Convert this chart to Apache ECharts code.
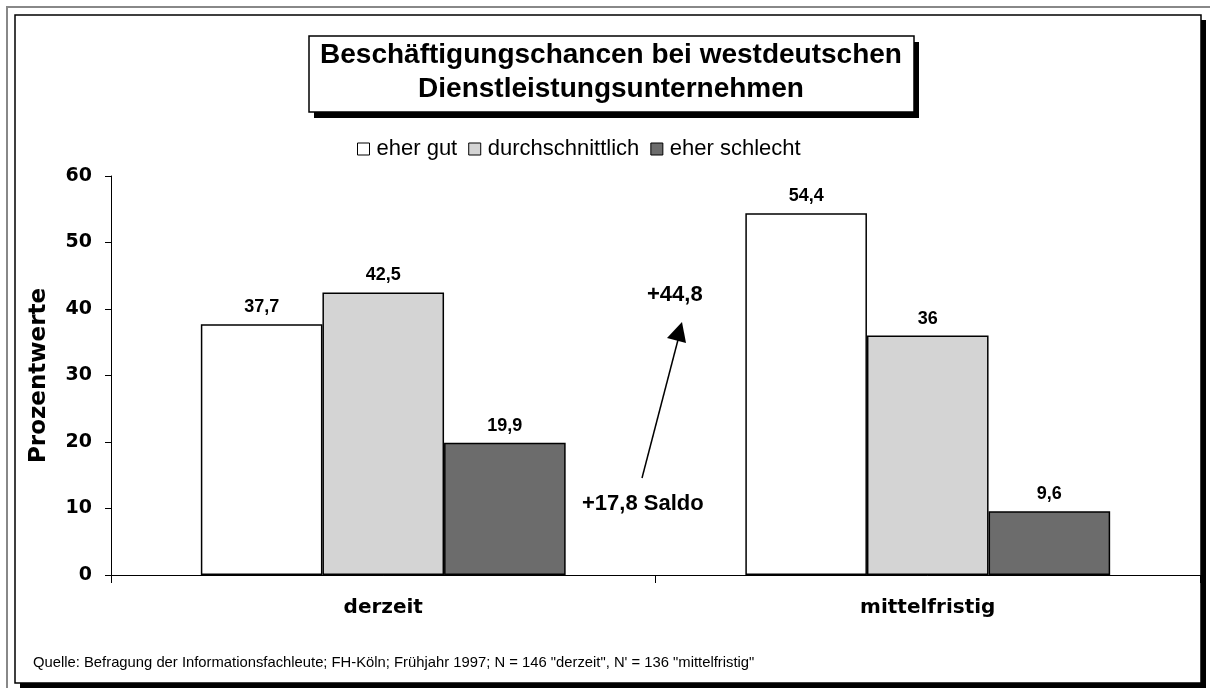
<!DOCTYPE html>
<html>
<head>
<meta charset="utf-8">
<title>Beschäftigungschancen</title>
<script src="https://cdn.jsdelivr.net/npm/echarts@6/dist/echarts.min.js"></script>
<style>
  html, body { margin: 0; padding: 0; background: #fff; }
  #chart { width: 1210px; height: 688px; }
</style>
</head>
<body>
<div id="chart"></div>
<script>
// Zeitpunkte der Befragung
const categories = ['derzeit', 'mittelfristig']
const seriesNames = ['eher gut', 'durchschnittlich', 'eher schlecht']
// Prozentwerte je Antwort
const eherGut = [37.7, 54.4]
const durchschnittlich = [42.5, 36]
const eherSchlecht = [19.9, 9.6]
const yTicks = [0, 10, 20, 30, 40, 50, 60]

const fontFamily = '"Liberation Sans", Arial, sans-serif'
// die Achsenbeschriftung ist im Original breit gezogen
const wideFont = '"DejaVu Sans", Verdana, sans-serif'

const myChart = echarts.init(document.getElementById('chart'))

function barSeries(name, data, color) {
  return {
    name: name,
    type: 'bar',
    data: data,
    barGap: '0%',
    barCategoryGap: '33%',
    itemStyle: {
      color: color,
      borderColor: '#000',
      borderWidth: 1.5
    },
    label: {
      show: true,
      position: 'top',
      distance: 8,
      color: '#000',
      fontFamily: fontFamily,
      fontWeight: 'bold',
      fontSize: 18,
      formatter: function(p) {
        return String(p.value).replace('.', ',')
      }
    }
  }
}

const options = {
  animation: false,
  backgroundColor: '#fff',
  legend: {
    left: 352,
    top: 133,
    icon: 'rect',
    itemWidth: 12,
    itemHeight: 12,
    itemGap: 11,
    itemStyle: {
      borderColor: '#000',
      borderWidth: 1
    },
    textStyle: {
      color: '#000',
      fontFamily: fontFamily,
      fontSize: 22,
      padding: [0, 0, 0, 2]
    },
    data: seriesNames
  },
  grid: {
    left: 111,
    right: 10,
    top: 176,
    bottom: 113
  },
  xAxis: {
    type: 'category',
    data: categories,
    axisLine: {
      lineStyle: { color: '#000', width: 1 }
    },
    axisTick: {
      show: true,
      length: 8,
      lineStyle: { color: '#000' }
    },
    axisLabel: {
      margin: 23,
      color: '#000',
      fontFamily: wideFont,
      fontWeight: 'bold',
      fontSize: 20
    }
  },
  yAxis: {
    type: 'value',
    min: yTicks[0],
    max: yTicks[yTicks.length - 1],
    interval: 10,
    name: 'Prozentwerte',
    nameLocation: 'middle',
    nameRotate: 90,
    nameGap: 60,
    nameTextStyle: {
      color: '#000',
      fontFamily: wideFont,
      fontWeight: 'bold',
      fontSize: 23
    },
    axisLine: {
      show: true,
      lineStyle: { color: '#000', width: 1 }
    },
    axisTick: {
      show: true,
      length: 6,
      lineStyle: { color: '#000' }
    },
    splitLine: { show: false },
    axisLabel: {
      margin: 19,
      color: '#000',
      fontFamily: wideFont,
      fontWeight: 'bold',
      fontSize: 19
    }
  },
  graphic: [
    // Rahmen
    {
      type: 'rect',
      z: -20,
      silent: true,
      shape: { x: 7, y: 7, width: 1220, height: 700 },
      style: { fill: '#fff', stroke: '#888', lineWidth: 2 }
    },
    {
      type: 'rect',
      z: -19,
      silent: true,
      shape: { x: 20, y: 20, width: 1186, height: 668 },
      style: { fill: '#000' }
    },
    {
      type: 'rect',
      z: -18,
      silent: true,
      shape: { x: 15, y: 15, width: 1186, height: 668 },
      style: { fill: '#fff', stroke: '#000', lineWidth: 1.5 }
    },
    // Titelkasten
    {
      type: 'rect',
      z: 10,
      silent: true,
      shape: { x: 314, y: 42, width: 605, height: 76 },
      style: { fill: '#000' }
    },
    {
      type: 'rect',
      z: 11,
      silent: true,
      shape: { x: 309, y: 36, width: 605, height: 76 },
      style: { fill: '#fff', stroke: '#000', lineWidth: 1.5 }
    },
    {
      type: 'text',
      z: 12,
      silent: true,
      x: 611,
      y: 55,
      style: {
        text: 'Beschäftigungschancen bei westdeutschen',
        fill: '#000',
        font: 'bold 28px ' + fontFamily,
        textAlign: 'center',
        textVerticalAlign: 'middle'
      }
    },
    {
      type: 'text',
      z: 12,
      silent: true,
      x: 611,
      y: 89,
      style: {
        text: 'Dienstleistungsunternehmen',
        fill: '#000',
        font: 'bold 28px ' + fontFamily,
        textAlign: 'center',
        textVerticalAlign: 'middle'
      }
    },
    // Saldo-Pfeil
    {
      type: 'line',
      z: 12,
      silent: true,
      shape: { x1: 642, y1: 478, x2: 679, y2: 336 },
      style: { stroke: '#000', lineWidth: 1.5 }
    },
    {
      type: 'polygon',
      z: 12,
      silent: true,
      shape: { points: [[682, 322], [667, 338], [686, 343]] },
      style: { fill: '#000' }
    },
    {
      type: 'text',
      z: 12,
      silent: true,
      x: 647,
      y: 295,
      style: {
        text: '+44,8',
        fill: '#000',
        font: 'bold 22px ' + fontFamily,
        textAlign: 'left',
        textVerticalAlign: 'middle'
      }
    },
    {
      type: 'text',
      z: 12,
      silent: true,
      x: 582,
      y: 504,
      style: {
        text: '+17,8 Saldo',
        fill: '#000',
        font: 'bold 22px ' + fontFamily,
        textAlign: 'left',
        textVerticalAlign: 'middle'
      }
    },
    // Quelle
    {
      type: 'text',
      z: 12,
      silent: true,
      x: 33,
      y: 663,
      style: {
        text: 'Quelle: Befragung der Informationsfachleute; FH-Köln; Frühjahr 1997; N = 146 "derzeit", N\' = 136 "mittelfristig"',
        fill: '#000',
        font: '14.8px ' + fontFamily,
        textAlign: 'left',
        textVerticalAlign: 'middle'
      }
    }
  ],
  series: [
    barSeries(seriesNames[0], eherGut, '#ffffff'),
    barSeries(seriesNames[1], durchschnittlich, '#d4d4d4'),
    barSeries(seriesNames[2], eherSchlecht, '#6c6c6c')
  ]
}

myChart.setOption(options)
window.addEventListener('resize', function() {
  myChart.resize()
})
</script>
</body>
</html>
